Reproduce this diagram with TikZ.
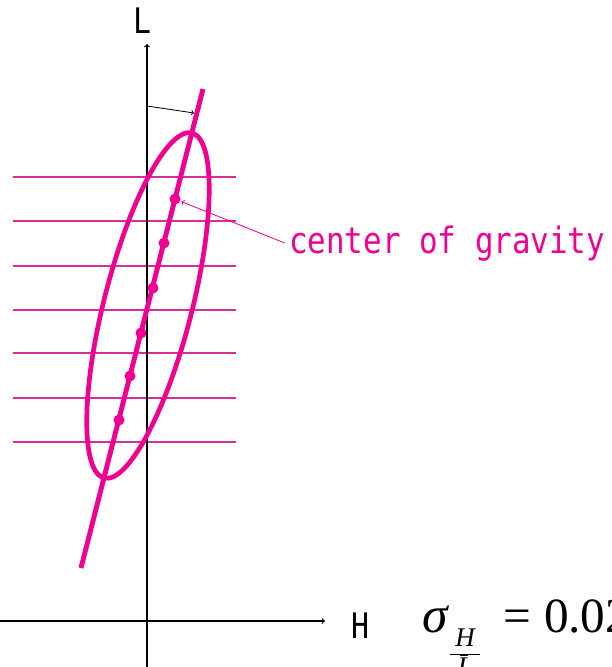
\documentclass[tikz,border=0pt]{standalone}
\usepackage{fontspec}
\setmainfont{Liberation Serif}
\newfontfamily\gothic{DejaVu Sans Mono}
\pgfdeclarelayer{edgelayer}
\pgfdeclarelayer{nodelayer}
\pgfsetlayers{edgelayer,nodelayer,main}
\definecolor{hotpink}{RGB}{240,0,145}
\definecolor{levelpink}{RGB}{215,45,150}
\tikzstyle{axis}=[draw=black, line width=0.9pt, ->]
\tikzstyle{pointer}=[draw=black, line width=0.7pt, ->]
\tikzstyle{leader}=[draw=hotpink, line width=0.7pt, ->, shorten >=1pt]
\tikzstyle{level}=[draw=levelpink, line width=1pt]
\tikzstyle{trend}=[draw=hotpink, line width=4.2pt]
\tikzstyle{oval}=[draw=hotpink, line width=4pt]
\tikzstyle{dot}=[circle, fill=hotpink, inner sep=0pt, minimum size=0.33cm]
\tikzstyle{axisname}=[inner sep=0pt, font=\gothic\fontsize{30}{30}\selectfont, xscale=0.85]
\tikzstyle{tag}=[inner sep=4pt, text=hotpink, font=\gothic\fontsize{31}{31}\selectfont, xscale=0.85]

\begin{document}
\begin{tikzpicture}[x=0.03cm, y=-0.03cm]
				\useasboundingbox (0,0) rectangle (612,667);
				\clip (0,0) rectangle (612,667);
				\coordinate (o) at (147,621);
				\coordinate (ytip) at (147,44);
				\coordinate (ybot) at (147,667);
				\coordinate (xtip) at (325,621);
				\coordinate (xbot) at (0,621);
				\coordinate (top) at (203,89);
				\coordinate (bot) at (81,568);
				\coordinate (ctr) at (148,305.5);
				\coordinate (a0) at (147,106);
				\coordinate (a1) at (194,113);
				\begin{pgfonlayer}{nodelayer}
					\node [style=dot] (1) at (175,199) {};
					\node [style=dot] (2) at (164,243) {};
					\node [style=dot] (3) at (153,288) {};
					\node [style=dot] (4) at (141,333) {};
					\node [style=dot] (5) at (130,376) {};
					\node [style=dot] (6) at (119,420) {};
				\end{pgfonlayer}
				\begin{pgfonlayer}{edgelayer}
					\draw [style=level] (13,177) -- (236,177);
					\draw [style=level] (13,221) -- (236,221);
					\draw [style=level] (13,266) -- (236,266);
					\draw [style=level] (13,310) -- (236,310);
					\draw [style=level] (13,353) -- (236,353);
					\draw [style=level] (13,398) -- (236,398);
					\draw [style=level] (13,442) -- (236,442);
					\draw [style=axis] (ybot) to (ytip);
					\draw [style=axis] (xbot) to (xtip);
					\draw [style=oval, rotate around={-14.3:(ctr)}] (ctr) ellipse [x radius=44, y radius=178];
					\draw [style=trend] (top) to (bot);
					\draw [style=pointer] (a0) to (a1);
				\end{pgfonlayer}
				\node [style=axisname] (L) at (142,21) {L};
				\node [style=axisname] (H) at (360,626) {H};
				\node [style=tag, anchor=base west] (cog) at (285,253) {center of gravity};
				\draw [style=leader] (cog.west) to (1);
				% sigma with its fraction subscript, cut by the page edge as in the original
				\node [anchor=base west, inner sep=0pt] (sig) at (422,632)
					{{\fontsize{44}{44}\selectfont\itshape σ}\hspace{2pt}\raisebox{-12pt}{\fontsize{23}{23}\selectfont\begin{tabular}[t]{@{\hspace{4.5pt}}c@{\hspace{4.5pt}}}\itshape H\\\hline\itshape L̄\end{tabular}}\hspace{20pt}{\fontsize{42}{42}\selectfont=\hspace{11pt}0.02}};
			\end{tikzpicture}
\end{document}
